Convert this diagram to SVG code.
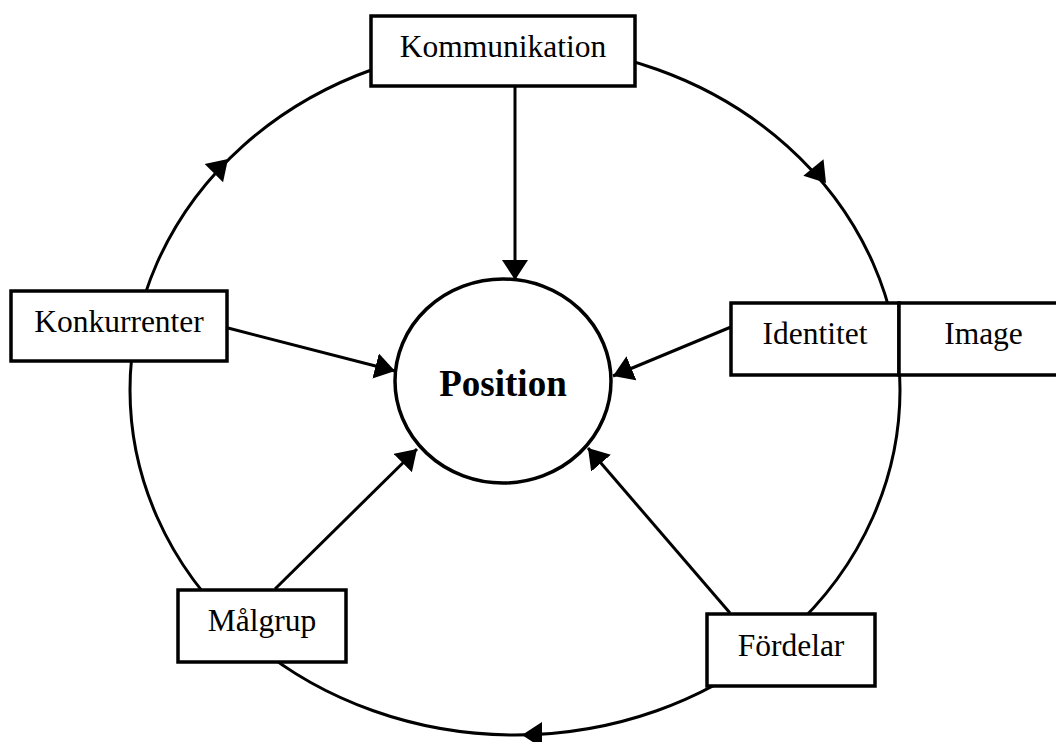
<svg xmlns="http://www.w3.org/2000/svg" xmlns:xlink="http://www.w3.org/1999/xlink" width="1056" height="742" viewBox="0 0 1056 742">
<style>
.box{fill:#fff;stroke:#000;stroke-width:3.5}
.lbl{font-family:"Liberation Serif","Times New Roman",serif;font-size:31.5px;fill:#000;text-anchor:middle}
.line{fill:none;stroke:#000;stroke-width:3}
</style>
<defs>
<marker id="ah" markerUnits="userSpaceOnUse" markerWidth="24" markerHeight="30" refX="20" refY="13" orient="auto">
<polygon points="0,0 20,13 0,26" fill="#000"/>
</marker>
<polygon id="cah" points="0,0 -20,-13 -20,13" fill="#000"/>
</defs>
<rect width="1056" height="742" fill="#fff"/>
<g id="connectors">
<ellipse class="line" cx="515" cy="390" rx="385" ry="345"/>
<use xlink:href="#cah" transform="translate(228,159) rotate(-45)"/>
<use xlink:href="#cah" transform="translate(826,183) rotate(51)"/>
<use xlink:href="#cah" transform="translate(522,735) rotate(180)"/>
<line class="line" x1="515" y1="87" x2="515" y2="280" marker-end="url(#ah)"/>
<line class="line" x1="228" y1="328" x2="395" y2="371" marker-end="url(#ah)"/>
<line class="line" x1="731" y1="327" x2="613" y2="376" marker-end="url(#ah)"/>
<line class="line" x1="275" y1="589" x2="417" y2="449" marker-end="url(#ah)"/>
<line class="line" x1="730" y1="613" x2="588" y2="448" marker-end="url(#ah)"/>
</g>
<g id="position">
<ellipse cx="503" cy="381" rx="108" ry="102" fill="#fff" stroke="#000" stroke-width="3.5"/>
<text x="503" y="396" style="font-family:'Liberation Serif','Times New Roman',serif;font-size:37px;font-weight:bold;text-anchor:middle">Position</text>
</g>
<g id="kommunikation">
<rect class="box" x="371" y="16" width="264" height="70"/>
<text class="lbl" x="503" y="57">Kommunikation</text>
</g>
<g id="konkurrenter">
<rect class="box" x="11" y="291" width="216" height="70"/>
<text class="lbl" x="119" y="332">Konkurrenter</text>
</g>
<g id="identitet">
<rect class="box" x="731" y="303" width="168" height="72"/>
<text class="lbl" x="815" y="344">Identitet</text>
</g>
<g id="image">
<rect class="box" x="899" y="303" width="168" height="72"/>
<text class="lbl" x="983.5" y="344">Image</text>
</g>
<g id="malgrup">
<rect class="box" x="178" y="590" width="168" height="72"/>
<text class="lbl" x="262" y="631">Målgrup</text>
</g>
<g id="fordelar">
<rect class="box" x="707" y="614" width="168" height="72"/>
<text class="lbl" x="791" y="656">Fördelar</text>
</g>
</svg>
